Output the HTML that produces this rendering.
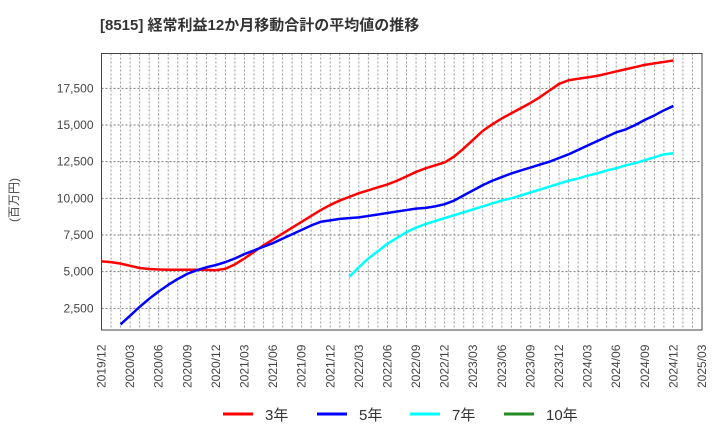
<!DOCTYPE html>
<html><head><meta charset="utf-8"><style>
body{margin:0;background:#fff;font-family:"Liberation Sans","Noto Sans CJK JP",sans-serif;}
svg text{font-family:"Liberation Sans","Noto Sans CJK JP",sans-serif;}
</style></head><body>
<svg id="chart" width="720" height="440" xmlns="http://www.w3.org/2000/svg">
<text x="100" y="30" font-size="15" font-weight="bold" fill="#333">[8515]  経常利益12か月移動合計の平均値の推移</text>
<text transform="translate(18,200) rotate(-90)" font-size="12" fill="#444" text-anchor="middle">(百万円)</text>
<g id="grid"></g><g id="axes"></g><g id="series"></g><g id="legend"></g>
</svg>
<script>
const yTicks=[2500,5000,7500,10000,12500,15000,17500];
const xLabels=["2019/12","2020/03","2020/06","2020/09","2020/12","2021/03","2021/06","2021/09","2021/12","2022/03","2022/06","2022/09","2022/12","2023/03","2023/06","2023/09","2023/12","2024/03","2024/06","2024/09","2024/12","2025/03"];
const red=[5700,5650,5550,5400,5250,5180,5150,5130,5130,5130,5130,5120,5100,5200,5500,5900,6350,6800,7200,7600,8000,8400,8800,9200,9550,9850,10100,10350,10550,10750,10950,11200,11500,11800,12050,12250,12450,12850,13400,14000,14600,15050,15450,15800,16150,16500,16900,17350,17800,18050,18150,18250,18350,18500,18650,18800,18950,19100,19200,19300,19400];
const redStart=0;
const blue=[1400,2000,2600,3150,3650,4100,4500,4850,5100,5300,5450,5650,5900,6200,6450,6700,6950,7250,7550,7850,8150,8400,8500,8600,8650,8700,8800,8900,9000,9100,9200,9300,9350,9450,9600,9850,10200,10550,10900,11200,11450,11700,11900,12100,12300,12500,12750,13000,13300,13600,13900,14200,14500,14700,15000,15350,15650,16000,16300];
const blueStart=2;
const cyan=[4650,5300,5900,6400,6900,7300,7700,8000,8250,8450,8650,8850,9050,9250,9450,9650,9850,10000,10200,10400,10600,10800,11000,11200,11350,11550,11700,11900,12050,12250,12400,12600,12800,13000,13070];
const cyanStart=26;
const ns="http://www.w3.org/2000/svg";
const L=101.5,R=702,T=53.5,B=330,NM=63;
const X=m=>L+m*(R-L)/NM;
const Y=v=>345-v*14.667/1000;
function mk(t,a,p){const e=document.createElementNS(ns,t);for(const k in a)e.setAttribute(k,a[k]);p.appendChild(e);return e;}
const g=document.getElementById('grid'),ax=document.getElementById('axes'),sg=document.getElementById('series'),lg=document.getElementById('legend');
for(let m=1;m<NM;m++){const l=mk('line',{x1:X(m),x2:X(m),y1:T,y2:B,stroke:'#999','stroke-width':1,'stroke-dasharray':'2,2'},g);}
yTicks.forEach(v=>{const l=mk('line',{x1:L,x2:R,y1:Y(v),y2:Y(v),stroke:'#777','stroke-width':1,'stroke-dasharray':'2,2'},g);
const t=mk('text',{x:L-8,y:Y(v)+4,'font-size':12,fill:'#444','text-anchor':'end'},ax);t.textContent=v.toLocaleString('en-US');});
xLabels.forEach((s,i)=>{const x=X(i*3)+4;const t=mk('text',{transform:`translate(${x},${B+58}) rotate(-90)`,'font-size':12,fill:'#444'},ax);t.textContent=s;});
const fr=mk('rect',{x:L,y:T,width:R-L,height:B-T,fill:'none',stroke:'#444','stroke-width':1},ax);
function line(d,s,c,n){const p=mk('polyline',{points:d.map((v,i)=>X(s+i)+','+Y(v)).join(' '),fill:'none',stroke:c,'stroke-width':2.5,'stroke-linejoin':'round'},sg);}
line(red,redStart,'#ff0000','series-3yr');line(blue,blueStart,'#0000ff','series-5yr');line(cyan,cyanStart,'#00ffff','series-7yr');
[['3年','#ff0000',223],['5年','#0000ff',317],['7年','#00ffff',410],['10年','#228b22',504]].forEach(([t,c,x])=>{
const l=mk('line',{x1:x,x2:x+30,y1:414,y2:414,stroke:c,'stroke-width':3},lg);
const tx=mk('text',{x:x+42,y:420,'font-size':15,fill:'#333'},lg);tx.textContent=t;});
</script>
</body></html>
